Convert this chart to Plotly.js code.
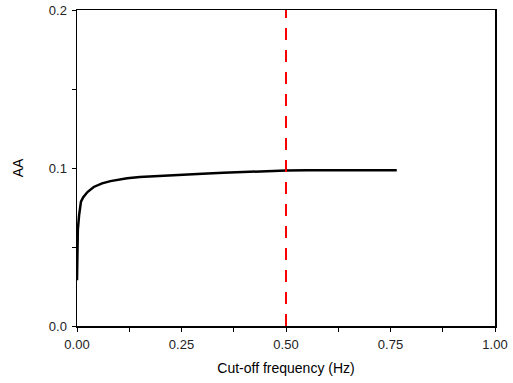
<!DOCTYPE html>
<html>
<head>
<meta charset="utf-8">
<script src="https://cdn.plot.ly/plotly-3.0.1.min.js"></script>
<style>html,body{margin:0;padding:0;background:#fff;}#chart{width:513px;height:383px;}</style>
</head>
<body>
<div id="chart"></div>
<script>
const freq = [0, 0.001, 0.002, 0.005, 0.0095, 0.015, 0.025, 0.04, 0.06, 0.08, 0.1, 0.12, 0.15, 0.2, 0.25, 0.3, 0.35, 0.4, 0.45, 0.5, 0.55, 0.6, 0.65, 0.7, 0.765];
const aa = [0.029, 0.050, 0.061, 0.070, 0.0787, 0.0815, 0.0848, 0.0880, 0.0903, 0.0917, 0.0927, 0.0935, 0.0943, 0.0951, 0.0958, 0.0964, 0.0970, 0.0975, 0.0980, 0.0984, 0.0985, 0.0985, 0.0985, 0.0985, 0.0985];
const cutoffX = [0.5, 0.5];
const cutoffY = [0, 0.2];
const xTicks = [0, 0.25, 0.5, 0.75, 1.0];
const xTickText = ['0.00', '0.25', '0.50', '0.75', '1.00'];
const yTicks = [0, 0.1, 0.2];
const yTickText = ['0.0', '0.1', '0.2'];

const traces = [
  {x: freq, y: aa, mode: 'lines', line: {color: '#000', width: 2.5}, showlegend: false, hoverinfo: 'skip'},
  {x: cutoffX, y: cutoffY, mode: 'lines', line: {color: '#ff0000', width: 2, dash: '12px,10px'}, showlegend: false, hoverinfo: 'skip'}
];
const fam = 'Liberation Sans, Arial, sans-serif';
const layout = {
  width: 513, height: 383,
  margin: {l: 77, r: 18, t: 10, b: 57},
  paper_bgcolor: '#fff', plot_bgcolor: '#fff',
  font: {family: fam, size: 13, color: '#000'},
  xaxis: {
    range: [0, 1], tickvals: xTicks, ticktext: xTickText,
    ticks: 'outside', ticklen: 4, tickwidth: 1, tickcolor: '#000',
    showline: true, linecolor: '#000', linewidth: 1.5, mirror: true,
    showgrid: false, zeroline: false, ticklabelstandoff: 2,
    minor: {tickvals: [0.125, 0.375, 0.625, 0.875], ticks: 'outside', ticklen: 4, tickcolor: '#000', showgrid: false},
    tickfont: {family: fam, size: 13, color: '#222'},
    title: {text: 'Cut-off frequency (Hz)', font: {family: fam, size: 14, color: '#000'}, standoff: 12}
  },
  yaxis: {
    range: [0, 0.2], tickvals: yTicks, ticktext: yTickText,
    ticks: 'outside', ticklen: 4, tickwidth: 1, tickcolor: '#000',
    showline: true, linecolor: '#000', linewidth: 1.5, mirror: true,
    showgrid: false, zeroline: false, ticklabelstandoff: 2,
    minor: {tickvals: [0.05, 0.15], ticks: 'outside', ticklen: 4, tickcolor: '#000', showgrid: false},
    tickfont: {family: fam, size: 13, color: '#222'},
    title: {text: 'AA', font: {family: fam, size: 14, color: '#000'}, standoff: 22}
  }
};
Plotly.newPlot('chart', traces, layout, {staticPlot: true, displayModeBar: false});
</script>
</body>
</html>
